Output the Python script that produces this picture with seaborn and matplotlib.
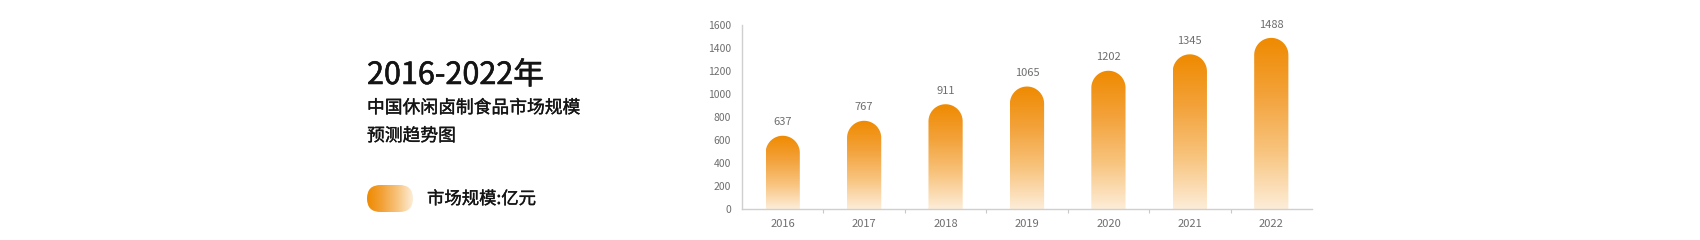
import numpy as np
import pandas as pd
import matplotlib
matplotlib.use("Agg")
import matplotlib.pyplot as plt
import matplotlib.patheffects as pe
import seaborn as sns
from matplotlib.path import Path
from matplotlib.patches import PathPatch, FancyBboxPatch
from matplotlib.colors import LinearSegmentedColormap
from matplotlib.ticker import FixedLocator

# ---- data ----
years = ["2016", "2017", "2018", "2019", "2020", "2021", "2022"]
market_size = [637, 767, 911, 1065, 1202, 1345, 1488]
y_ticks = [0, 200, 400, 600, 800, 1000, 1200, 1400, 1600]
title_text = "2016-2022年"
subtitle_lines = ["中国休闲卤制食品市场规模", "预测趋势图"]
legend_label = "市场规模:亿元"

sns.set_theme(style="white")
plt.rcParams["font.family"] = ["Noto Sans CJK SC", "DejaVu Sans"]

W, H = 1700, 240
fig = plt.figure(figsize=(W / 100, H / 100), dpi=100)
fig.patch.set_facecolor("white")

# axes placement in pixels
ax_l, ax_r, ax_top, ax_bot = 742, 1312, 25, 209
ax = fig.add_axes([ax_l / W, (H - ax_bot) / H, (ax_r - ax_l) / W, (ax_bot - ax_top) / H])

df = pd.DataFrame({"year": years, "value": market_size})
bar_w = 0.42
sns.barplot(data=df, x="year", y="value", ax=ax, width=bar_w, color="#F08C0A")

ax.set_xlim(-0.5, len(years) - 0.5)
ax.set_ylim(0, 1600)
ax.set_yticks(y_ticks)
ax.set_xlabel("")
ax.set_ylabel("")

cmap = LinearSegmentedColormap.from_list(
    "og", ["#FDEDD8", "#F8C47E", "#F3A23A", "#EF8A00"])
grad = np.linspace(0, 1, 256).reshape(-1, 1)

# pixel scales
px_per_x = (ax_r - ax_l) / len(years)
px_per_y = (ax_bot - ax_top) / 1600.0
r_px = bar_w * px_per_x / 2.0

for p in list(ax.patches):
    x0 = p.get_x()
    w = p.get_width()
    h = p.get_height()
    p.set_visible(False)
    rx = w / 2.0
    ry = r_px / px_per_y
    cx = x0 + rx
    th = np.linspace(np.pi, 0, 60)
    arc = np.column_stack([cx + rx * np.cos(th), (h - ry) + ry * np.sin(th)])
    verts = np.vstack([[x0, 0], [x0, h - ry], arc, [x0 + w, 0], [x0, 0]])
    codes = [Path.MOVETO] + [Path.LINETO] * (len(verts) - 2) + [Path.CLOSEPOLY]
    patch = PathPatch(Path(verts, codes), facecolor="none", edgecolor="none")
    ax.add_patch(patch)
    im = ax.imshow(grad, cmap=cmap, origin="lower", aspect="auto",
                   extent=[x0, x0 + w, 0, h], zorder=2)
    im.set_clip_path(patch)
    ax.annotate(f"{int(round(h))}", (cx, h), xytext=(0, 6), textcoords="offset points",
                ha="center", va="bottom", fontsize=8, color="#6e6e6e")

ax.set_xlim(-0.5, len(years) - 0.5)
ax.set_ylim(0, 1600)

for s in ["top", "right"]:
    ax.spines[s].set_visible(False)
for s in ["left", "bottom"]:
    ax.spines[s].set_color("#cfcfcf")
    ax.spines[s].set_linewidth(1.0)

ax.xaxis.set_minor_locator(FixedLocator(np.arange(0.5, len(years) - 1, 1.0)))
ax.tick_params(axis="x", which="minor", length=3, color="#c8c8c8", width=0.8, direction="out", bottom=True)
ax.tick_params(axis="x", which="major", length=0, pad=7, labelsize=8, labelcolor="#6e6e6e")
ax.tick_params(axis="y", which="major", length=0, pad=8, labelsize=7.5, labelcolor="#6e6e6e")
ax.grid(False)
ax.set_facecolor("white")

# ---- left text block ----
ink = "#141414"
bold_big = [pe.withStroke(linewidth=0.4, foreground=ink)]
bold_small = [pe.withStroke(linewidth=0.25, foreground=ink)]
tx = 367 / W
fig.text(tx, (H - 84) / H, title_text, fontsize=22, color=ink, ha="left", va="baseline",
         path_effects=bold_big)
fig.text(tx, (H - 113) / H, subtitle_lines[0], fontsize=12.8, color=ink, ha="left", va="baseline",
         path_effects=bold_small)
fig.text(tx, (H - 141) / H, subtitle_lines[1], fontsize=12.8, color=ink, ha="left", va="baseline",
         path_effects=bold_small)

# legend pill
lg_l, lg_r, lg_t, lg_b = 367, 413, 185, 212
lax = fig.add_axes([lg_l / W, (H - lg_b) / H, (lg_r - lg_l) / W, (lg_b - lg_t) / H])
lw, lh = lg_r - lg_l, lg_b - lg_t
lax.set_xlim(0, lw)
lax.set_ylim(0, lh)
lax.axis("off")
pill = FancyBboxPatch((0, 0), lw, lh, boxstyle=f"round,pad=0,rounding_size={lh/2}",
                      facecolor="none", edgecolor="none")
lax.add_patch(pill)
hgrad = np.linspace(1, 0, 256).reshape(1, -1)
lim = lax.imshow(hgrad, cmap=cmap, aspect="auto", extent=[0, lw, 0, lh])
lim.set_clip_path(pill)
lax.set_xlim(0, lw)
lax.set_ylim(0, lh)

fig.text(427 / W, (H - 204) / H, legend_label, fontsize=12.5, color=ink, ha="left", va="baseline",
         path_effects=bold_small)

fig.savefig("out.png", dpi=100, facecolor="white")
